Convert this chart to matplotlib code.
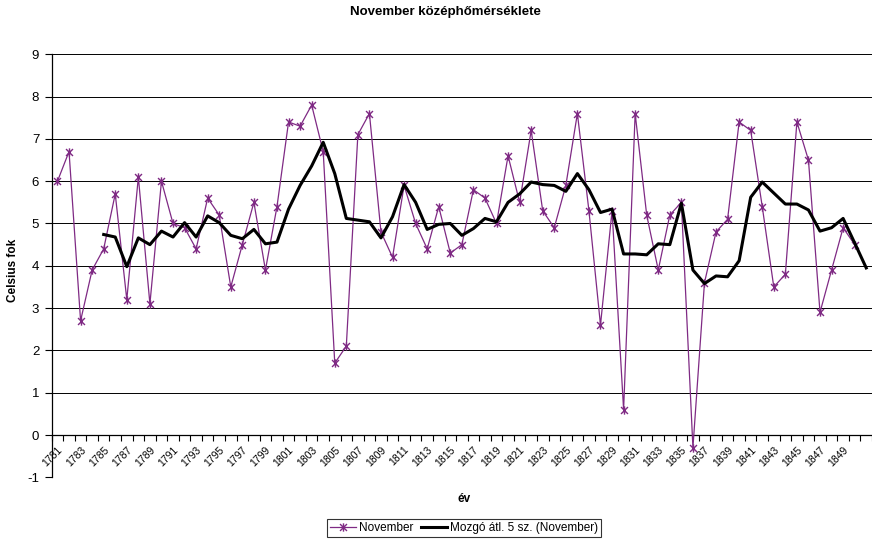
import matplotlib
matplotlib.use("Agg")
import matplotlib.pyplot as plt
from matplotlib.path import Path
import numpy as np
import pandas as pd

plt.rcParams['font.family'] = ['Liberation Sans', 'DejaVu Sans']
plt.rcParams['axes.unicode_minus'] = False

# data
years = list(range(1781, 1851))
november = [6.0, 6.7, 2.7, 3.9, 4.4, 5.7, 3.2, 6.1, 3.1, 6.0,
            5.0, 4.9, 4.4, 5.6, 5.2, 3.5, 4.5, 5.5, 3.9, 5.4,
            7.4, 7.3, 7.8, 6.7, 1.7, 2.1, 7.1, 7.6, 4.8, 4.2,
            5.9, 5.0, 4.4, 5.4, 4.3, 4.5, 5.8, 5.6, 5.0, 6.6,
            5.5, 7.2, 5.3, 4.9, 5.9, 7.6, 5.3, 2.6, 5.3, 0.6,
            7.6, 5.2, 3.9, 5.2, 5.5, -0.3, 3.6, 4.8, 5.1, 7.4,
            7.2, 5.4, 3.5, 3.8, 7.4, 6.5, 2.9, 3.9, 4.9, 4.5]
# the moving average runs one year past the clipped right edge
avg_1851 = 3.95
tick_years = years[::2]

# 5 year moving average, Excel style (trailing)
mozgo = pd.Series(november).rolling(5).mean().tolist() + [avg_1851]

# Excel "star" marker: X with a vertical bar
star = Path([(-1, -1), (1, 1), (-1, 1), (1, -1), (0, -1.2), (0, 1.2)],
            [Path.MOVETO, Path.LINETO, Path.MOVETO, Path.LINETO, Path.MOVETO, Path.LINETO])

fig = plt.figure(figsize=(8.72, 5.4), dpi=100)
ax = fig.add_axes([51.7 / 872, 1 - 477.3 / 540, 1 - 51.7 / 872, (477.3 - 54.3) / 540])

x = np.arange(len(november))
x_avg = np.arange(len(mozgo))
purple = '#7F2A84'

ax.plot(x, november, color=purple, lw=0.9, marker=star, markersize=6,
        markeredgewidth=1.0, markeredgecolor=purple, label='November', zorder=3)
ax.plot(x_avg, mozgo, color='black', lw=2.2, label='Mozgó átl. 5 sz. (November)', zorder=4)

ax.set_xlim(-0.5, (872 - 51.7) / 11.67 - 0.5)
ax.set_ylim(-1, 9)

# horizontal gridlines
ax.set_yticks(range(-1, 10))
ax.yaxis.grid(True, color='black', lw=0.7)
ax.set_axisbelow(True)
ax.tick_params(axis='y', direction='out', length=5, width=0.8, labelsize=9.5, pad=4)

# category axis crossing at 0
ax.spines['bottom'].set_position(('data', 0))
ax.spines['bottom'].set_linewidth(0.9)
ax.spines['left'].set_linewidth(0.9)
ax.spines['top'].set_visible(False)
ax.spines['right'].set_visible(False)

ax.set_xticks(np.arange(-0.5, len(mozgo) + 0.5, 1), minor=True)
ax.set_xticks([years.index(y) for y in tick_years])
ax.set_xticklabels([str(y) for y in tick_years], rotation=45, ha='right',
                   va='top', rotation_mode='anchor', fontsize=7.5)
ax.tick_params(axis='x', which='major', length=0, pad=7)
ax.tick_params(axis='x', which='minor', direction='out', length=4, width=0.8)

ax.set_ylabel('Celsius fok', fontsize=8.5, fontweight='bold')
ax.yaxis.set_label_coords(-(51.7 - 19) / 820, 0.49)

fig.text(464 / 872, 1 - 499 / 540, 'év', fontsize=8.5, fontweight='bold', ha='center', va='center')
fig.text(445 / 872, 1 - 12 / 540, 'November középhőmérséklete', fontsize=9.5,
         fontweight='bold', ha='center', va='center')

leg = fig.legend(loc='center', bbox_to_anchor=(464 / 872, 1 - 528 / 540), ncol=2,
                 fontsize=8.5, frameon=True, fancybox=False, edgecolor='black',
                 borderpad=0.25, handlelength=2.2, handletextpad=0.3, columnspacing=0.6)
leg.get_frame().set_linewidth(0.8)

plt.savefig('out.png', dpi=100)
